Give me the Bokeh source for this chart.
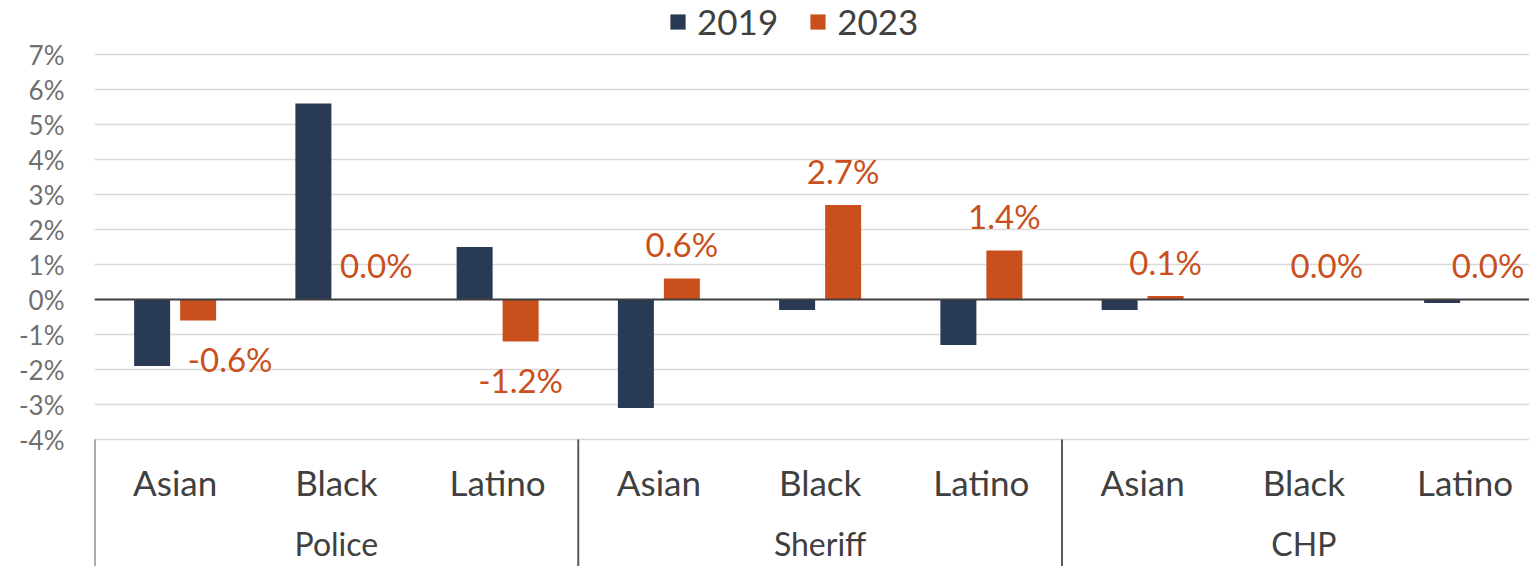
from bokeh.plotting import figure
from bokeh.models import (Range1d, ColumnDataSource, Span, FixedTicker,
                          PrintfTickFormatter, Legend, LegendItem)
from bokeh.transform import dodge
from bokeh.core.properties import value
from bokeh.embed import file_html
from bokeh.resources import INLINE

# ---------------- data ----------------
agencies = ["Police", "Sheriff", "CHP"]
groups = ["Asian", "Black", "Latino"]
years = ["2019", "2023"]
values_2019 = [-1.9, 5.6, 1.5, -3.1, -0.3, -1.3, -0.3, 0.0, -0.1]
values_2023 = [-0.6, 0.0, -1.2, 0.6, 2.7, 1.4, 0.1, 0.0, 0.0]
y_ticks = [-4, -3, -2, -1, 0, 1, 2, 3, 4, 5, 6, 7]

# ---------------- style / layout ----------------
NAVY = "#293A55"
ORANGE = "#C94F1C"
TEXT = "#404040"
AXIS_TEXT = "#6f6f6f"
FONT = "Lato"
W, H = 1529, 566
LEFT = 94
PX_PER_UNIT = 35.0      # px per 1 %
ZERO_PX = 299.0         # pixel row of the 0 % line
PX_PER_CAT = 161.25     # px per category slot
BAR_W = 36 / PX_PER_CAT
BAR_OFF = 23 / PX_PER_CAT
BASE_FIX = 15           # text glyph baseline correction (px)

n_cat = len(agencies) * len(groups)
cat_names = [g for a in agencies for g in groups]
cat_pos = [i + 0.5 for i in range(n_cat)]
agency_pos = [k * len(groups) + len(groups) / 2 for k in range(len(agencies))]
sep_pos = [k * len(groups) for k in range(len(agencies))]

def py(px_row):
    return (ZERO_PX - px_row) / PX_PER_UNIT

p = figure(width=W, height=H,
           x_range=Range1d(0, (W - LEFT) / PX_PER_CAT),
           y_range=Range1d(py(H), py(0)),
           output_backend="svg", toolbar_location=None, x_axis_location=None,
           min_border_left=LEFT, min_border_right=0, min_border_top=0, min_border_bottom=0)
p.outline_line_color = None
p.background_fill_color = "white"
p.border_fill_color = "white"

p.xgrid.visible = False
p.ygrid.ticker = FixedTicker(ticks=y_ticks)
p.ygrid.grid_line_color = "#d9d9d9"
p.ygrid.grid_line_width = 1.5

yax = p.yaxis[0]
yax.ticker = FixedTicker(ticks=y_ticks)
yax.formatter = PrintfTickFormatter(format="%d%%")
yax.axis_line_color = None
yax.major_tick_line_color = None
yax.minor_tick_line_color = None
yax.major_label_standoff = 24
yax.major_label_text_font = FONT
yax.major_label_text_font_size = "26px"
yax.major_label_text_color = AXIS_TEXT

labels = [f"{v:.1f}%" for v in values_2023]
label_dx = [32, 17, 0, 0, 0, 0, 0, 0, 0]
label_dy = [(-19.5 - BASE_FIX) if v >= 0 else (53 - BASE_FIX) for v in values_2023]

src = ColumnDataSource(dict(x=cat_pos, v19=values_2019, v23=values_2023,
                            lab=labels, dx=label_dx, dy=label_dy))

r19 = p.vbar(x=dodge("x", -BAR_OFF), top="v19", bottom=0,
             width=BAR_W, source=src, fill_color=NAVY, line_color=None)
r23 = p.vbar(x=dodge("x", BAR_OFF), top="v23", bottom=0,
             width=BAR_W, source=src, fill_color=ORANGE, line_color=None)

p.add_layout(Span(location=0, dimension="width", line_color="#404040", line_width=2))

p.text(x=dodge("x", BAR_OFF), y="v23", text="lab",
       x_offset="dx", y_offset="dy", text_align="center", text_baseline="alphabetic",
       text_font=value(FONT), text_font_size="33px", text_color=ORANGE, source=src)

# category (sub-group) labels
cat_src = ColumnDataSource(dict(x=cat_pos, t=cat_names))
p.text(x="x", y=py(496.7 - BASE_FIX), text="t", source=cat_src, text_align="center",
       text_baseline="alphabetic", text_font=value(FONT), text_font_size="35px",
       text_color=TEXT)

# agency labels
ag_src = ColumnDataSource(dict(x=agency_pos, t=agencies))
p.text(x="x", y=py(558 - BASE_FIX), text="t", source=ag_src, text_align="center",
       text_baseline="alphabetic", text_font=value(FONT), text_font_size="32px",
       text_color=TEXT)

# group separators
sep_src = ColumnDataSource(dict(x=sep_pos))
p.segment(x0="x", x1="x", y0=min(y_ticks), y1=py(H), source=sep_src,
          line_color="#595959", line_width=2)

legend = Legend(items=[LegendItem(label=years[0], renderers=[r19]),
                       LegendItem(label=years[1], renderers=[r23])],
                orientation="horizontal", location=(574, 524),
                glyph_width=19, glyph_height=19, label_standoff=10, spacing=30,
                padding=0, margin=0, border_line_color=None,
                background_fill_alpha=0, label_text_font=FONT,
                label_text_font_size="35px", label_text_color=TEXT)
p.add_layout(legend)

open("out.html", "w").write(file_html(p, INLINE))
